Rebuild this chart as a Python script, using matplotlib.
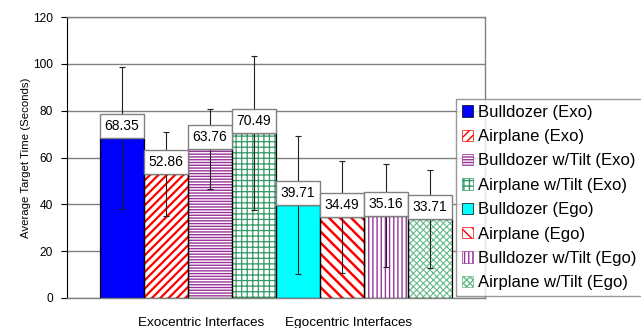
import matplotlib
matplotlib.use("Agg")
import matplotlib.pyplot as plt
import numpy as np
from matplotlib.patches import Patch

plt.rcParams['font.family'] = ['Liberation Sans', 'DejaVu Sans']

# data
series = ['Bulldozer (Exo)', 'Airplane (Exo)', 'Bulldozer w/Tilt (Exo)', 'Airplane w/Tilt (Exo)',
          'Bulldozer (Ego)', 'Airplane (Ego)', 'Bulldozer w/Tilt (Ego)', 'Airplane w/Tilt (Ego)']
means = [68.35, 52.86, 63.76, 70.49, 39.71, 34.49, 35.16, 33.71]
errs = [30.5, 18.0, 17.0, 33.0, 29.5, 24.0, 22.0, 21.0]
groups = ['Exocentric Interfaces', 'Egocentric Interfaces']
group_pos = [1.8, 5.16]
yticks = [0, 20, 40, 60, 80, 100, 120]

# styles
faces = ['#0000FF', 'white', 'white', 'white', '#00FFFF', 'white', 'white', 'white']
hatch_cols = ['black', '#FF0000', '#993399', '#339966', 'black', '#FF0000', '#993399', '#66BB88']
hatches = [None, '////', '------', '+++', None, '\\\\\\', '||||', 'xxxxx']
hatch_lws = [1, 1.6, 1, 0.9, 1, 1.8, 1, 0.8]


def make_patch(i, **kw):
    with plt.rc_context({'hatch.linewidth': hatch_lws[i]}):
        p = Patch(facecolor=faces[i], edgecolor=hatch_cols[i] if hatches[i] else 'black',
                  hatch=hatches[i], **kw)
    if hasattr(p, 'set_hatch_linewidth'):
        p.set_hatch_linewidth(hatch_lws[i])
    return p


fig = plt.figure(figsize=(6.41, 3.28), dpi=100)
ax = fig.add_axes([67/641, 1 - 298/328, 418/641, 281/328])

x = np.arange(len(means))
for i in range(len(means)):
    with plt.rc_context({'hatch.linewidth': hatch_lws[i]}):
        bars = ax.bar(x[i], means[i], width=1, color=faces[i], edgecolor=hatch_cols[i],
                      hatch=hatches[i], linewidth=0, zorder=2)
    for b in bars:
        if hasattr(b, 'set_hatch_linewidth'):
            b.set_hatch_linewidth(hatch_lws[i])
ax.bar(x, means, width=1, fill=False, edgecolor='black', linewidth=0.9, zorder=3)

ax.errorbar(x, means, yerr=errs, fmt='none', ecolor='#222222', elinewidth=0.8,
            capsize=2, capthick=0.8, zorder=4)

for xi, m in zip(x, means):
    ax.annotate(f'{m:.2f}', (xi, m), xytext=(0, 3.6), textcoords='offset points',
                ha='center', va='bottom', fontsize=10, zorder=5,
                bbox=dict(boxstyle='square,pad=0.36', fc='white', ec='#808080', lw=1))

ax.set_xlim(-1.25, 8.25)
ax.set_ylim(0, 120)
ax.set_yticks(yticks)
ax.yaxis.grid(True, color='#808080', linewidth=1)
ax.set_axisbelow(True)
ax.tick_params(axis='y', length=4, width=0.8, pad=6, labelsize=8.6)
ax.set_xticks(group_pos)
ax.set_xticklabels(groups, fontsize=9.7)
ax.tick_params(axis='x', length=0, pad=14)

ax.spines['left'].set_color('black')
ax.spines['left'].set_linewidth(0.8)
for s in ['top', 'right', 'bottom']:
    ax.spines[s].set_color('#808080')
    ax.spines[s].set_linewidth(1)

fig.text(26/641, 1 - 158/328, 'Average Target Time (Seconds)', rotation=90,
         ha='center', va='center', fontsize=8.2)

handles = [make_patch(i, linewidth=0.5) for i in range(len(series))]
leg = fig.legend(handles, series, loc='upper left', bbox_to_anchor=(456/641, 1 - 99/328),
                 fontsize=12, frameon=True, fancybox=False, edgecolor='#808080',
                 handlelength=0.65, handleheight=0.65, handletextpad=0.35,
                 labelspacing=0.56, borderpad=0.35, borderaxespad=0)
leg.get_frame().set_linewidth(1)

fig.savefig('out.png', dpi=100, facecolor='white')
